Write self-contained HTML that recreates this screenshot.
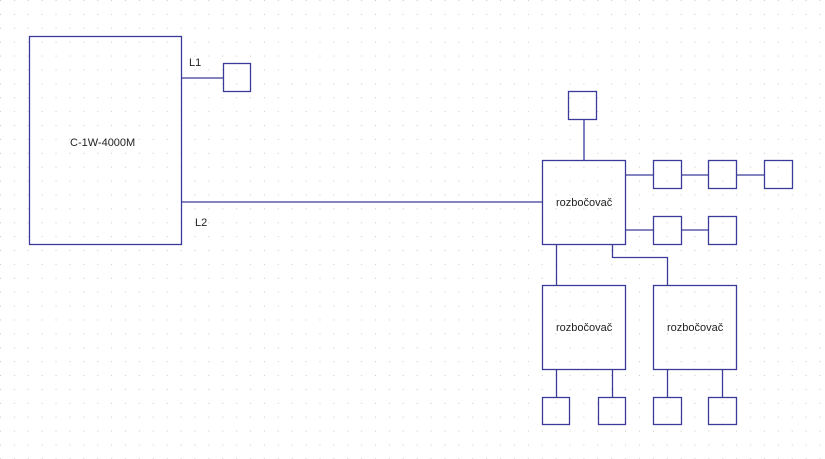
<!DOCTYPE html>
<html><head><meta charset="utf-8"><style>
html,body{margin:0;padding:0;background:#fff;}
svg{display:block;}
text{font-family:"Liberation Sans",sans-serif;font-size:11px;fill:#222;}
</style></head><body>
<svg width="825" height="459" viewBox="0 0 825 459" xmlns="http://www.w3.org/2000/svg">
<defs><pattern id="g" x="0" y="0" width="13.89" height="13.89" patternUnits="userSpaceOnUse"><rect x="0" y="0" width="1" height="1" fill="#c8c8c8"/></pattern></defs>
<rect width="825" height="459" fill="url(#g)"/>
<g fill="none" stroke="#3a3a9a" stroke-width="1.3">
<rect x="29.5" y="36.5" width="152" height="208"/>
<line x1="181" y1="78" x2="223" y2="78"/>
<rect x="223.5" y="63.5" width="27" height="28"/>
<line x1="181" y1="202" x2="542" y2="202"/>
<rect x="542.5" y="160.5" width="83" height="84"/>
<rect x="568.5" y="91.5" width="28" height="28"/>
<line x1="584" y1="119" x2="584" y2="160"/>
<line x1="625" y1="175" x2="653" y2="175"/>
<rect x="653.5" y="160.5" width="28" height="28"/>
<line x1="681" y1="175" x2="708" y2="175"/>
<rect x="708.5" y="160.5" width="28" height="28"/>
<line x1="736" y1="175" x2="764" y2="175"/>
<rect x="764.5" y="160.5" width="28" height="28"/>
<line x1="625" y1="230" x2="653" y2="230"/>
<rect x="653.5" y="216.5" width="28" height="28"/>
<line x1="681" y1="230" x2="708" y2="230"/>
<rect x="708.5" y="216.5" width="28" height="28"/>
<line x1="556.5" y1="244" x2="556.5" y2="285"/>
<polyline points="612.5,244 612.5,257.5 667.5,257.5 667.5,285"/>
<rect x="542.5" y="285.5" width="83" height="84"/>
<rect x="653.5" y="285.5" width="83" height="84"/>
<line x1="556.5" y1="369" x2="556.5" y2="397"/>
<line x1="612.5" y1="369" x2="612.5" y2="397"/>
<line x1="667.5" y1="369" x2="667.5" y2="397"/>
<line x1="722.5" y1="369" x2="722.5" y2="397"/>
<rect x="542.5" y="397.5" width="27" height="27"/>
<rect x="598.5" y="397.5" width="27" height="27"/>
<rect x="653.5" y="397.5" width="28" height="27"/>
<rect x="708.5" y="397.5" width="28" height="27"/>
</g>
<text x="70" y="146">C-1W-4000M</text>
<text x="189" y="66">L1</text>
<text x="195" y="226">L2</text>
<text x="556" y="206">rozbočovač</text>
<text x="556" y="331">rozbočovač</text>
<text x="667" y="331">rozbočovač</text>
</svg>
</body></html>
